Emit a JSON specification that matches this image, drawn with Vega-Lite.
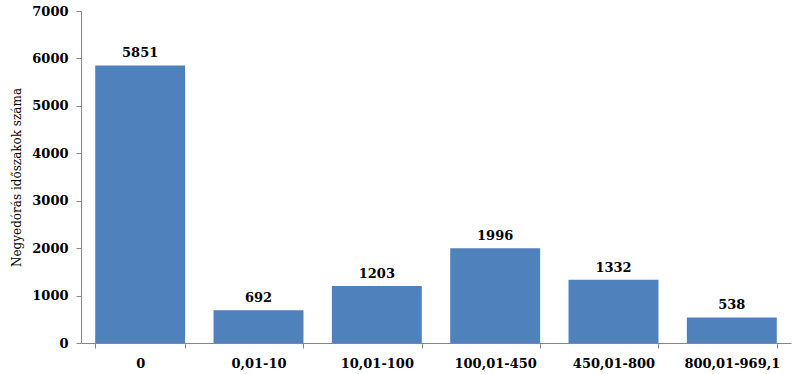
{
  "$schema": "https://vega.github.io/schema/vega-lite/v6.json",
  "autosize": {"type": "none"},
  "padding": {"left": 81, "top": 11, "right": 9, "bottom": 31},
  "width": 710,
  "height": 332,
  "background": "white",
  "data": {"values": [
    {"kategoria": "0", "ertek": 5851},
    {"kategoria": "0,01-10", "ertek": 692},
    {"kategoria": "10,01-100", "ertek": 1203},
    {"kategoria": "100,01-450", "ertek": 1996},
    {"kategoria": "450,01-800", "ertek": 1332},
    {"kategoria": "800,01-969,1", "ertek": 538}
  ]},
  "config": {"view": {"stroke": null}},
  "encoding": {
    "x": {"field": "kategoria", "type": "nominal", "sort": null,
      "scale": {"paddingInner": 0.24, "paddingOuter": 0.12},
      "axis": {"title": null, "labelAngle": 0, "tickBand": "extent", "tickSize": 5,
        "domainColor": "#868686", "tickColor": "#868686", "labelFont": "DejaVu Serif",
        "labelFontWeight": "bold", "labelFontSize": 13, "labelColor": "#000000", "labelPadding": 9}},
    "y": {"field": "ertek", "type": "quantitative",
      "scale": {"domain": [0, 7000]},
      "axis": {"title": "Negyedórás időszakok száma", "values": [0,1000,2000,3000,4000,5000,6000,7000],
        "format": "d",
        "grid": false, "tickSize": 5, "domainColor": "#868686", "tickColor": "#868686",
        "labelFont": "DejaVu Serif", "labelFontWeight": "bold", "labelFontSize": 13, "labelColor": "#000000",
        "labelPadding": 8, "titleFont": "DejaVu Serif", "titleFontWeight": "normal", "titleFontSize": 12,
        "titleColor": "#000000", "titlePadding": 8}}
  },
  "layer": [
    {"mark": {"type": "bar", "color": "#4F81BD"}},
    {"mark": {"type": "text", "dy": -12, "font": "DejaVu Serif", "fontWeight": "bold", "fontSize": 13, "color": "#000000"},
      "encoding": {"text": {"field": "ertek", "type": "quantitative", "format": "d"}}}
  ]
}
